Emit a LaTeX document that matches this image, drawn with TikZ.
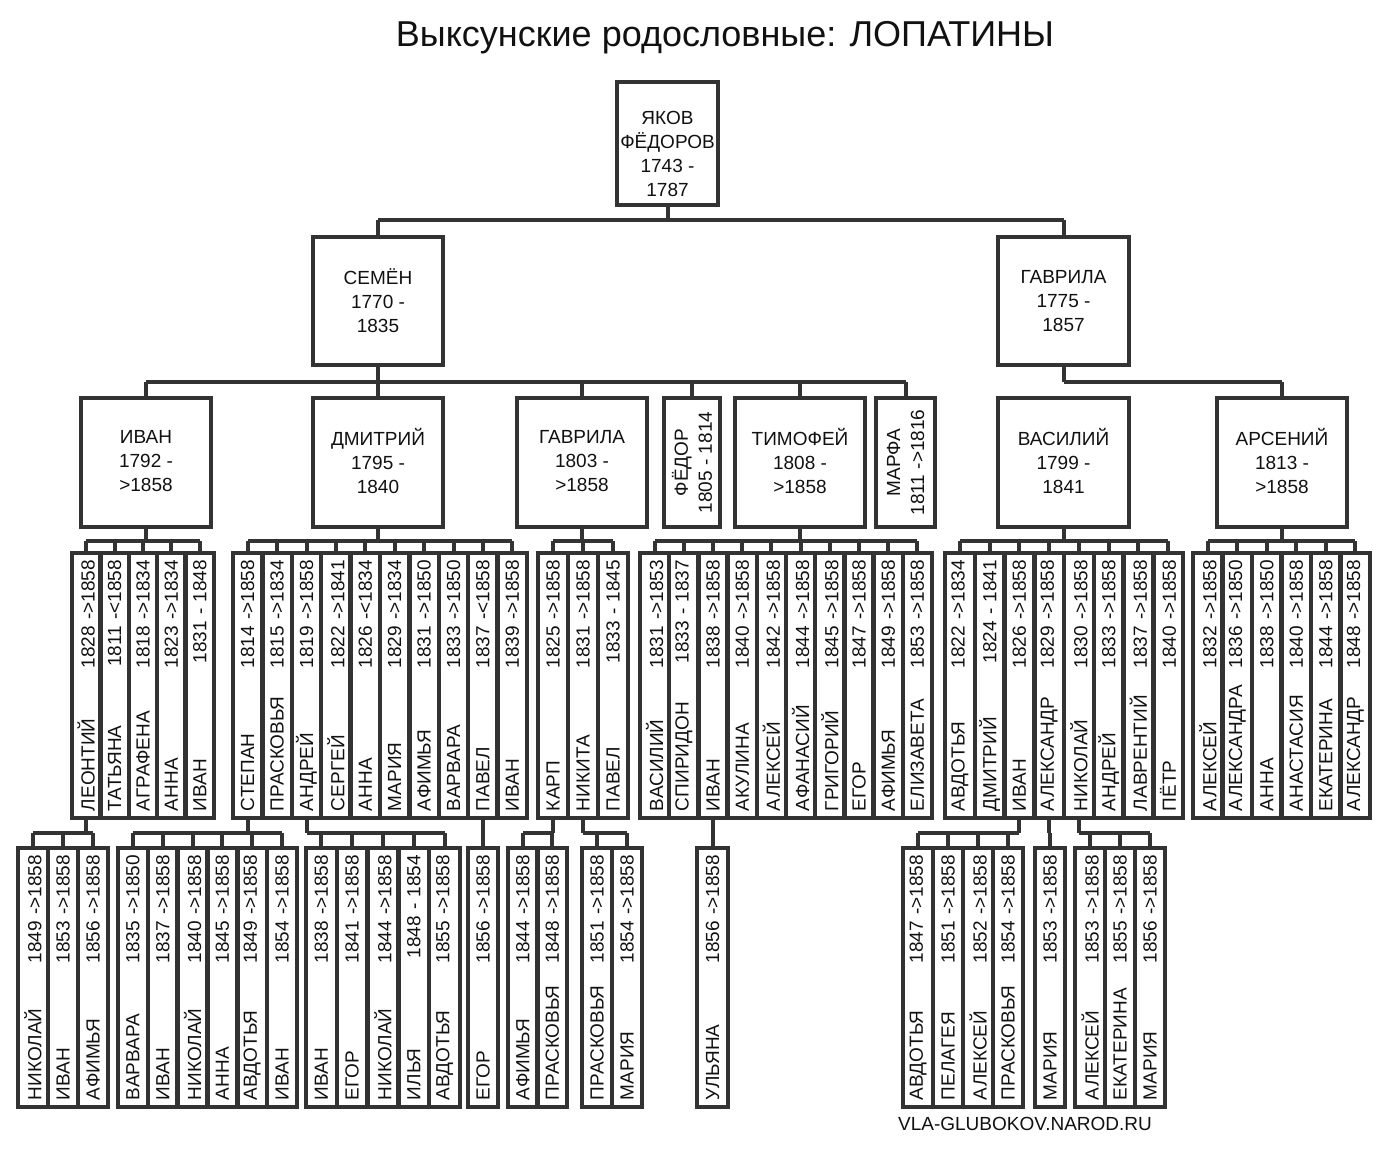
\documentclass[tikz,border=0pt]{standalone}
\usepackage{fontspec}
\setmainfont{Liberation Sans}
\definecolor{ln}{HTML}{333333}
\definecolor{tx}{HTML}{111111}
\tikzset{
  box/.style={draw=ln,line width=4.5pt,line join=miter},
  conn/.style={draw=ln,line width=4pt},
  big/.style={align=center,text=tx,font=\fontsize{19}{24}\selectfont,inner sep=0pt},
  cell/.style={rotate=90,align=left,text=tx,font=\fontsize{19}{23}\selectfont,inner sep=0pt}
}
% group of narrow cells: prefix, x0, x1, N, ytop, ybot, list
\newcommand\grp[7]{%
  \pgfmathsetmacro\gw{(#3-#2)/#4}%
  \pgfmathsetmacro\tw{#6-#5-14}%
  \draw[box] (#2,#5) rectangle (#3,#6);
  \foreach[count=\i] \nm/\dt in {#7}{%
    \pgfmathsetmacro\cx{#2+(\i-0.5)*\gw}%
    \pgfmathsetmacro\xl{#2+(\i-1)*\gw}%
    \node[cell,text width=\tw pt] (#1\i) at (\cx,{(#5+#6)/2}) {\nm\hfill\dt};
    \ifnum\i>1 \draw[box] (\xl,#5) -- (\xl,#6);\fi
  }%
}
% family connector: parent x, parent bottom, bar y, x0, x1, N, child top
\newcommand\famconn[7]{%
  \pgfmathsetmacro\fw{(#5-#4)/#6}%
  \pgfmathsetmacro\fa{min(#1,#4+\fw/2)}%
  \pgfmathsetmacro\fb{max(#1,#5-\fw/2)}%
  \draw[conn] (#1,#2) -- (#1,#3);
  \draw[conn] (\fa,#3) -- (\fb,#3);
  \foreach \i in {1,...,#6}{%
    \pgfmathsetmacro\tkx{#4+(\i-0.5)*\fw}%
    \draw[conn] (\tkx,#3) -- (\tkx,#7);
  }%
}
\begin{document}
\begin{tikzpicture}[x=1pt,y=-1pt]
\useasboundingbox (0,0) rectangle (1397,1149);
\node[text=tx,font=\fontsize{36}{40}\selectfont,inner sep=0pt] (title) at (725,38) {Выксунские родословные: ЛОПАТИНЫ};

% generation boxes
\draw[box] (617,82) rectangle (718,205);
\node[big] (root) at (667.5,153.5) {ЯКОВ\\ФЁДОРОВ\\1743 -\\1787};
\draw[box] (313,237) rectangle (443,365);
\node[big] (semen) at (378,301) {СЕМЁН\\1770 -\\1835};
\draw[box] (998,237) rectangle (1129,365);
\node[big] (gavr) at (1063.5,301) {ГАВРИЛА\\1775 -\\1857};

\draw[conn] (667.5,205) -- (667.5,220) (378,220) -- (1063.5,220) (378,220) -- (378,237) (1063.5,220) -- (1063.5,237);

\draw[box] (81,398) rectangle (211,527);
\node[big] (ivan) at (146,461) {ИВАН\\1792 -\\>1858};
\draw[box] (313,398) rectangle (443,527);
\node[big] (dmit) at (378,461) {ДМИТРИЙ\\1795 -\\1840};
\draw[box] (517,398) rectangle (647,527);
\node[big] (gavr2) at (582,461) {ГАВРИЛА\\1803 -\\>1858};
\draw[box] (664,398) rectangle (720,527);
\node[big,rotate=90] (fedor) at (692,462.5) {ФЁДОР\\1805 - 1814};
\draw[box] (735,398) rectangle (865,527);
\node[big] (timo) at (800,461) {ТИМОФЕЙ\\1808 -\\>1858};
\draw[box] (876,398) rectangle (935,527);
\node[big,rotate=90] (marfa) at (905.5,462.5) {МАРФА\\1811 ->1816};
\draw[box] (998,398) rectangle (1129,527);
\node[big] (vasil) at (1063.5,461) {ВАСИЛИЙ\\1799 -\\1841};
\draw[box] (1217,398) rectangle (1347,527);
\node[big] (arsen) at (1282,461) {АРСЕНИЙ\\1813 -\\>1858};

\draw[conn] (378,365) -- (378,382) (146,382) -- (905.5,382);
\foreach \x in {146,378,582,692,800,905.5} \draw[conn] (\x,382) -- (\x,398);
\draw[conn] (1063.5,365) -- (1063.5,382) (1063.5,382) -- (1282,382) (1282,382) -- (1282,398);

% row 3
\famconn{146}{527}{541}{72}{214}{5}{553}
\grp{a}{72}{214}{5}{553}{818}{ЛЕОНТИЙ/1828 ->1858,ТАТЬЯНА/1811 -<1858,АГРАФЕНА/1818 ->1834,АННА/1823 ->1834,ИВАН/1831 - 1848}
\famconn{378}{527}{541}{233}{527}{10}{553}
\grp{b}{233}{527}{10}{553}{818}{СТЕПАН/1814 ->1858,ПРАСКОВЬЯ/1815 ->1834,АНДРЕЙ/1819 ->1858,СЕРГЕЙ/1822 ->1841,АННА/1826 -<1834,МАРИЯ/1829 ->1834,АФИМЬЯ/1831 ->1850,ВАРВАРА/1833 ->1850,ПАВЕЛ/1837 -<1858,ИВАН/1839 ->1858}
\famconn{582}{527}{541}{538}{628}{3}{553}
\grp{c}{538}{628}{3}{553}{818}{КАРП/1825 ->1858,НИКИТА/1831 ->1858,ПАВЕЛ/1833 - 1845}
\famconn{800}{527}{541}{640}{932}{10}{553}
\grp{d}{640}{932}{10}{553}{818}{ВАСИЛИЙ/1831 ->1853,СПИРИДОН/1833 - 1837,ИВАН/1838 ->1858,АКУЛИНА/1840 ->1858,АЛЕКСЕЙ/1842 ->1858,АФАНАСИЙ/1844 ->1858,ГРИГОРИЙ/1845 ->1858,ЕГОР/1847 ->1858,АФИМЬЯ/1849 ->1858,ЕЛИЗАВЕТА/1853 ->1858}
\famconn{1063.5}{527}{541}{945}{1183}{8}{553}
\grp{e}{945}{1183}{8}{553}{818}{АВДОТЬЯ/1822 ->1834,ДМИТРИЙ/1824 - 1841,ИВАН/1826 ->1858,АЛЕКСАНДР/1829 ->1858,НИКОЛАЙ/1830 ->1858,АНДРЕЙ/1833 ->1858,ЛАВРЕНТИЙ/1837 ->1858,ПЁТР/1840 ->1858}
\famconn{1282}{527}{541}{1193}{1370}{6}{553}
\grp{f}{1193}{1370}{6}{553}{818}{АЛЕКСЕЙ/1832 ->1858,АЛЕКСАНДРА/1836 ->1850,АННА/1838 ->1850,АНАСТАСИЯ/1840 ->1858,ЕКАТЕРИНА/1844 ->1858,АЛЕКСАНДР/1848 ->1858}

% row 4
\famconn{86.2}{818}{833}{18}{108}{3}{848}
\grp{g}{18}{108}{3}{848}{1107}{НИКОЛАЙ/1849 ->1858,ИВАН/1853 ->1858,АФИМЬЯ/1856 ->1858}
\famconn{247.7}{818}{833}{118}{297}{6}{848}
\grp{h}{118}{297}{6}{848}{1107}{ВАРВАРА/1835 ->1850,ИВАН/1837 ->1858,НИКОЛАЙ/1840 ->1858,АННА/1845 ->1858,АВДОТЬЯ/1849 ->1858,ИВАН/1854 ->1858}
\famconn{306.5}{818}{833}{306}{460}{5}{848}
\grp{i}{306}{460}{5}{848}{1107}{ИВАН/1838 ->1858,ЕГОР/1841 ->1858,НИКОЛАЙ/1844 ->1858,ИЛЬЯ/1848 - 1854,АВДОТЬЯ/1855 ->1858}
\famconn{483.2}{818}{833}{468}{498}{1}{848}
\grp{j}{468}{498}{1}{848}{1107}{ЕГОР/1856 ->1858}
\famconn{553}{818}{833}{508}{567}{2}{848}
\grp{k}{508}{567}{2}{848}{1107}{АФИМЬЯ/1844 ->1858,ПРАСКОВЬЯ/1848 ->1858}
\famconn{583}{818}{833}{582}{642}{2}{848}
\grp{l}{582}{642}{2}{848}{1107}{ПРАСКОВЬЯ/1851 ->1858,МАРИЯ/1854 ->1858}
\famconn{713}{818}{833}{697}{728}{1}{848}
\grp{m}{697}{728}{1}{848}{1107}{УЛЬЯНА/1856 ->1858}
\famconn{1019.4}{818}{833}{903}{1023}{4}{848}
\grp{n}{903}{1023}{4}{848}{1107}{АВДОТЬЯ/1847 ->1858,ПЕЛАГЕЯ/1851 ->1858,АЛЕКСЕЙ/1852 ->1858,ПРАСКОВЬЯ/1854 ->1858}
\famconn{1049.1}{818}{833}{1035}{1065}{1}{848}
\grp{o}{1035}{1065}{1}{848}{1107}{МАРИЯ/1853 ->1858}
\famconn{1078.9}{818}{833}{1075}{1165}{3}{848}
\grp{p}{1075}{1165}{3}{848}{1107}{АЛЕКСЕЙ/1853 ->1858,ЕКАТЕРИНА/1855 ->1858,МАРИЯ/1856 ->1858}

\node[text=tx,font=\fontsize{19}{22}\selectfont,inner sep=0pt] (site) at (1025,1124) {VLA-GLUBOKOV.NAROD.RU};
\end{tikzpicture}
\end{document}
